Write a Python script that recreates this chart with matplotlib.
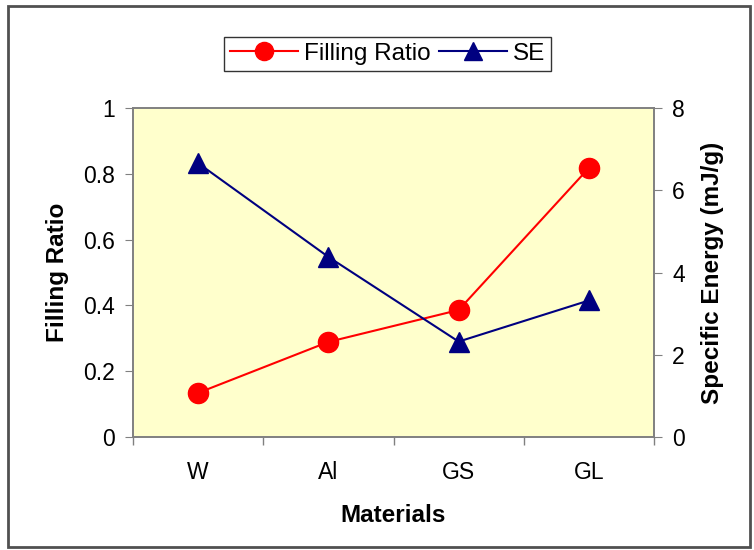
import matplotlib.pyplot as plt
from matplotlib.patches import Rectangle

plt.rcParams['font.family'] = ['Liberation Sans', 'DejaVu Sans']

# Data
materials = ['W', 'Al', 'GS', 'GL']
filling_ratio = [0.134, 0.289, 0.386, 0.818]
specific_energy = [6.66, 4.38, 2.32, 3.32]

fig = plt.figure(figsize=(7.54, 5.5), dpi=100)
ax = fig.add_axes([0.1764, 0.2055, 0.691, 0.598])
ax.set_facecolor('#FFFFCC')
ax2 = ax.twinx()

x = range(len(materials))
l1, = ax.plot(x, filling_ratio, color='#FF0000', lw=1.5, marker='o',
              markersize=14.5, label='Filling Ratio', zorder=3)
l2, = ax2.plot(x, specific_energy, color='#000080', lw=1.5, marker='^',
               markersize=14.5, label='SE', zorder=3)

ax.set_xlim(-0.5, 3.5)
ax.set_ylim(0, 1)
ax2.set_ylim(0, 8)
ax.set_yticks([0, 0.2, 0.4, 0.6, 0.8, 1.0])
ax.set_yticklabels(['0', '0.2', '0.4', '0.6', '0.8', '1'])
ax2.set_yticks([0, 2, 4, 6, 8])

ax.set_xticks(list(x))
ax.set_xticklabels(materials)
ax.set_xticks([-0.5, 0.5, 1.5, 2.5, 3.5], minor=True)
ax.tick_params(axis='x', which='major', length=0, pad=17, labelsize=16.5)
ax.tick_params(axis='x', which='minor', length=6, color='#808080', width=1)
ax.tick_params(axis='y', length=6, color='#808080', labelsize=16.5, pad=7)
ax2.tick_params(axis='y', length=6, color='#808080', labelsize=16.5, pad=7)

for a in (ax, ax2):
    for s in a.spines.values():
        s.set_color('#808080')
        s.set_linewidth(1.2)

ax.set_xlabel('Materials', fontsize=17.5, fontweight='bold', labelpad=15)
ax.set_ylabel('Filling Ratio', fontsize=17.5, fontweight='bold', labelpad=10)
ax2.set_ylabel('Specific Energy (mJ/g)', fontsize=17.5, fontweight='bold', labelpad=12)

leg = fig.legend(handles=[l1, l2], loc='center', bbox_to_anchor=(0.514, 0.902),
                 ncol=2, fontsize=17.5, frameon=True, fancybox=False,
                 handlelength=2.8, columnspacing=0.35, handletextpad=0.25,
                 borderpad=0.25, borderaxespad=0, markerscale=0.9)
leg.get_frame().set_edgecolor('black')
leg.get_frame().set_linewidth(1.0)

# outer chart frame
fig.patches.append(Rectangle((0.01, 0.005), 0.985, 0.985, transform=fig.transFigure,
                             fill=False, edgecolor='#505050', lw=2))

fig.savefig('out.png', dpi=100)
